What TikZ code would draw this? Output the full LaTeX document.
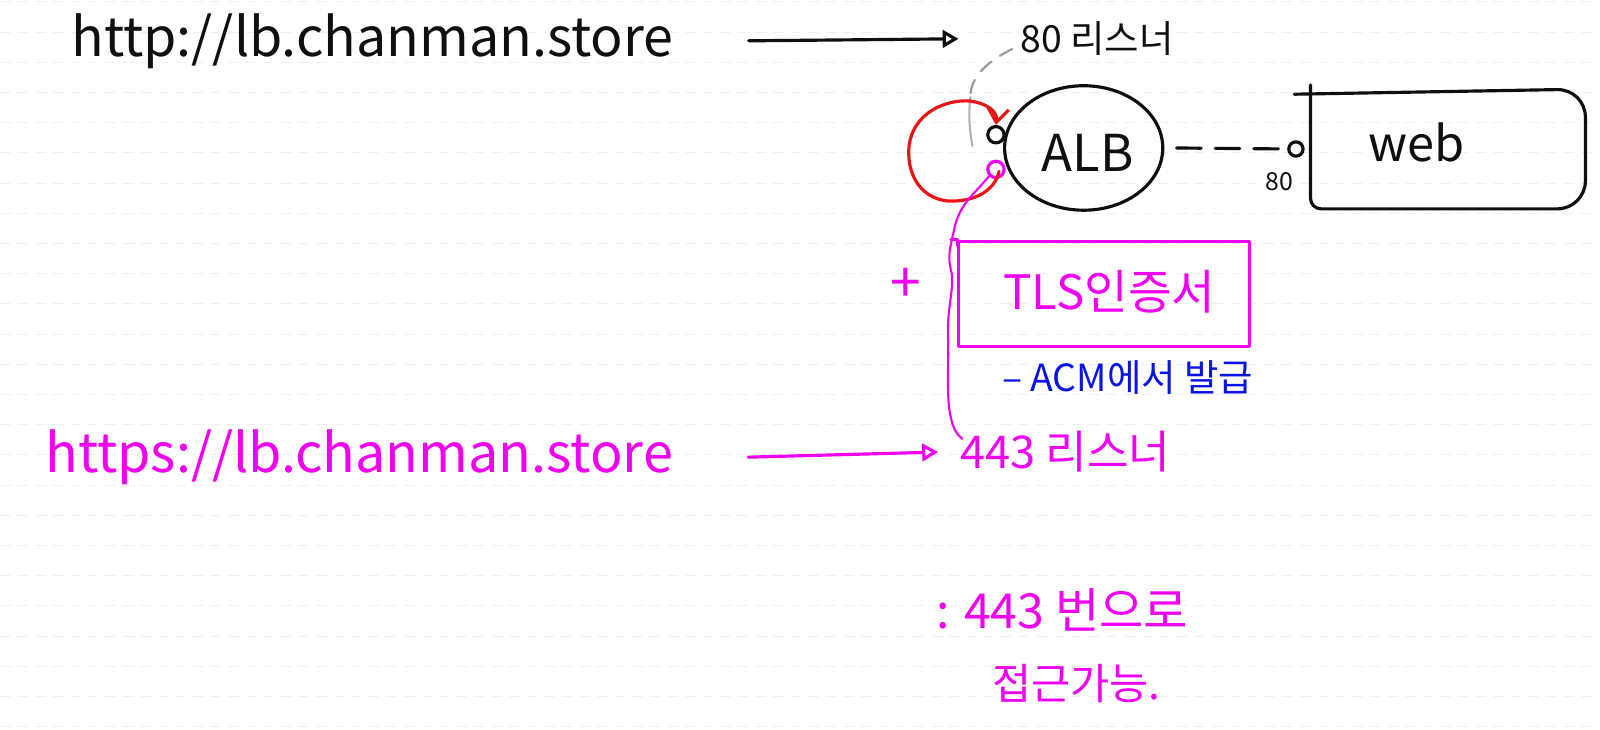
\documentclass[tikz,border=0pt]{standalone}
\usepackage{fontspec}
\usepackage{graphicx}
\usetikzlibrary{arrows.meta,shapes.geometric}
\newfontfamily\kr{Noto Sans CJK KR}
\definecolor{mag}{RGB}{240,0,240}
\definecolor{pen}{RGB}{15,15,15}
\definecolor{bl}{RGB}{10,20,230}
\definecolor{rd}{RGB}{235,20,20}
\newlength\U \setlength\U{0.0102041cm}
\newcommand\fitw[2]{\resizebox{#1\U}{!}{#2}}
\begin{document}
\begin{tikzpicture}[x=0.0102041cm,y=-0.0102041cm,
  lbl/.style={inner sep=0pt, font=\kr},
  ink/.style={line width=0.9pt, line cap=round, line join=round},
  thinink/.style={line width=0.6pt, line cap=round, line join=round},
  port/.style={circle, ink, minimum size=16\U, inner sep=0pt},
  openarrow/.style={-{Triangle[open, length=4.5pt, width=5pt]}},
  rule/.style={gray!12, line width=0.3pt, dash pattern=on 3pt off 2pt}]
\useasboundingbox (0,0) rectangle (1568,715);
\fill[white] (0,0) rectangle (1568,715);
\foreach \k in {0,...,24} \draw[rule] (0,{1.8+29.6*\k}) -- (1568,{1.8+29.6*\k});

% top row
\node[lbl, text=pen] (url1) at (365,40) {\fitw{590}{http://lb.chanman.store}};
\node[lbl, text=pen] (l80) at (1075,38) {\fitw{150}{80 리스너}};
\draw[ink, draw=pen, openarrow] ([xshift=73\U]url1.east) -- ([xshift=-60\U]l80.west);

% ALB
\node[ellipse, draw=pen, ink, minimum width=155\U, minimum height=122\U, inner sep=0pt] (alb) at (1062,145) {};
\node[lbl, text=pen] (albt) at (1066,150) {\fitw{90}{ALB}};
\node[port, draw=pen] (p80) at (976,132) {};
\node[port, draw=mag] (p443) at (976,166) {};

% gray dashed link from 80 listener
\coordinate (g1) at (992,48);
\coordinate (g2) at (951,95);
\coordinate (g3) at (953,143);
\draw[thinink, gray!80, dash pattern=on 4pt off 3pt] (g1) .. controls (968,60) and (951,75) .. (g2);
\draw[thinink, gray!60] (g2) .. controls (949,110) and (950,128) .. (g3);

% red loop
\coordinate (r0) at (979,168);
\draw[ink, draw=rd, -{Straight Barb[length=4pt, width=6pt]}] (r0) .. controls (975,187) and (955,198) .. (929,197)
  .. controls (900,194) and (888,168) .. (891,142)
  .. controls (895,112) and (925,97) .. (951,99)
  .. controls (965,101) and (978,108) .. (p80.north);

% web
\node[minimum width=268\U, minimum height=116\U, inner sep=0pt] (web) at (1419,146) {};
\draw[ink, draw=pen, rounded corners=8pt] ([xshift=-16\U, yshift=-5\U]web.north west) -- (web.north east) -- (web.south east)
  [rounded corners=3pt] -- (web.south west) [sharp corners] -- ([yshift=4\U]web.north west);
\node[lbl, text=pen] (webt) at (1388,140) {\fitw{94}{web}};
\node[circle, draw=pen, ink, minimum size=14\U, inner sep=0pt] (pw) at (1270,146) {};
\node[lbl, text=pen] (w80) at (1254,178) {\fitw{27}{80}};
\draw[ink, draw=pen, dash pattern=on 7pt off 4pt] ([xshift=12\U]alb.east) -- (pw.west);

% TLS certificate
\node[draw=mag, ink, minimum width=285\U, minimum height=103\U] (tls) at (1082,288) {};
\draw[ink, draw=mag] ([xshift=-6\U]tls.north west) -- (tls.north west) -- ([yshift=-6\U]tls.north west);
\node[lbl, text=mag] (tlst) at (1087,286) {\fitw{208}{TLS인증서}};
\node[lbl, text=mag] (plus) at (888,280) {\fitw{30}{+}};
\node[lbl, text=bl] (acm) at (1105,370) {\fitw{246}{– ACM에서 발급}};

% magenta wavy line
\draw[thinink, draw=mag] (p443.south west) .. controls (955,190) and (940,200) .. (935,225)
  .. controls (932,240) and (928,250) .. (932,265)
  .. controls (936,280) and (928,300) .. (929,330)
  .. controls (930,360) and (927,390) .. (932,410)
  .. controls (934,420) and (938,426) .. (943,430);

% https row
\node[lbl, text=mag] (url2) at (352,448) {\fitw{615}{https://lb.chanman.store}};
\node[lbl, text=mag] (l443) at (1044,443) {\fitw{206}{443 리스너}};
\draw[ink, draw=mag, openarrow] ([xshift=73\U]url2.east) -- ([xshift=-21\U]l443.west);

% note
\node[lbl, text=mag] (n1) at (1041,598) {\fitw{247}{: 443 번으로}};
\node[lbl, text=mag] (n2) at (1055,670) {\fitw{165}{접근가능.}};
\end{tikzpicture}
\end{document}
